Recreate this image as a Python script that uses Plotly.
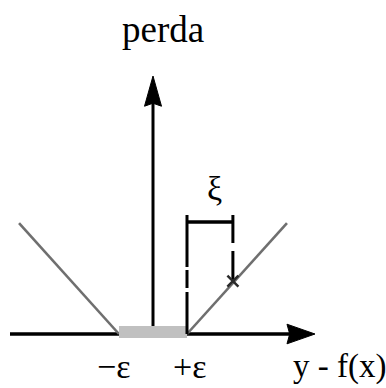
import plotly.graph_objects as go

# ε-insensitive loss, horizontal unit = ε
EPS = 1.0
loss_left_x = [-3.94, -1.0]
loss_left_y = [2.94, 0.0]
loss_right_x = [1.0, 3.94]
loss_right_y = [0.0, 2.94]
tube_x = [-EPS, EPS]
tube_y = [0.05, 0.05]

# sample outside the tube and its slack ξ
point_x = [2.35]
point_y = [1.40]
xi_value = point_x[0] - EPS

tick_text = ["\u2212\u03b5", "+\u03b5"]
tick_pos = [-EPS, EPS]
x_label = "y - f(x)"
y_label = "perda"
xi_label = "\u03be"

# axis extents in data units
X_RANGE = [-4.5, 6.853]
Y_RANGE = [-1.4305, 8.848]
AX_X0, AX_X1 = -4.206, 4.765
AX_Y1 = 6.834
BRACKET_TOP = 3.152
BRACKET_BAR = 2.967

FONT = "Liberation Serif"

fig = go.Figure()

# axes
fig.add_trace(go.Scatter(x=[AX_X0, AX_X1 - 0.5], y=[0, 0], mode="lines",
                         line=dict(color="black", width=3.5), hoverinfo="skip"))
fig.add_trace(go.Scatter(x=[0, 0], y=[0, AX_Y1 - 0.5], mode="lines",
                         line=dict(color="black", width=3), hoverinfo="skip"))
# arrowheads
hl, hh = 0.824, 0.26
fig.add_trace(go.Scatter(
    x=[AX_X1, AX_X1 - hl, AX_X1 - hl + 0.08, AX_X1 - hl, AX_X1],
    y=[0, hh, 0, -hh, 0], mode="lines", fill="toself", fillcolor="black",
    line=dict(color="black", width=1), hoverinfo="skip"))
vl, vw = 0.80, 0.25
fig.add_trace(go.Scatter(
    x=[0, vw, 0, -vw, 0],
    y=[AX_Y1, AX_Y1 - vl, AX_Y1 - vl + 0.08, AX_Y1 - vl, AX_Y1],
    mode="lines", fill="toself", fillcolor="black",
    line=dict(color="black", width=1), hoverinfo="skip"))

# loss branches
for lx, ly in ((loss_left_x, loss_left_y), (loss_right_x, loss_right_y)):
    fig.add_trace(go.Scatter(x=lx, y=ly, mode="lines",
                             line=dict(color="#6f6f6f", width=2.6), hoverinfo="skip"))

# insensitive tube
fig.add_trace(go.Scatter(x=tube_x, y=tube_y, mode="lines",
                         line=dict(color="#c0c0c0", width=12), hoverinfo="skip"))

# slack bracket
bx0, bx1 = EPS, point_x[0]
fig.add_trace(go.Scatter(x=[bx0, bx1], y=[BRACKET_BAR, BRACKET_BAR], mode="lines",
                         line=dict(color="black", width=3.5), hoverinfo="skip"))
fig.add_trace(go.Scatter(x=[bx0, bx0], y=[BRACKET_TOP, 0], mode="lines",
                         line=dict(color="black", width=3, dash="52px,3px,18px,4px"),
                         hoverinfo="skip"))
fig.add_trace(go.Scatter(x=[bx1, bx1], y=[BRACKET_TOP, point_y[0]], mode="lines",
                         line=dict(color="black", width=3, dash="28px,8px,60px"),
                         hoverinfo="skip"))

# sample point
fig.add_trace(go.Scatter(x=point_x, y=point_y, mode="markers",
                         marker=dict(symbol="x-thin", size=11,
                                     line=dict(color="#2a2a2a", width=2.5)),
                         hoverinfo="skip"))

ann = []
for t, p, dx in zip(tick_text, tick_pos, (-6, 2)):
    ann.append(dict(x=p, y=0, text=t, showarrow=False, xanchor="center", yanchor="middle",
                    xshift=dx, yshift=-32, font=dict(family=FONT, size=34, color="black")))
ann.append(dict(x=AX_X1, y=0, text=x_label, showarrow=False, xanchor="left",
                yanchor="middle", xshift=-24, yshift=-32,
                font=dict(family=FONT, size=33, color="black")))
ann.append(dict(x=0, y=AX_Y1, text=y_label, showarrow=False, xanchor="center",
                yanchor="middle", xshift=10, yshift=47,
                font=dict(family=FONT, size=37, color="black")))
ann.append(dict(x=EPS + xi_value / 2, y=BRACKET_TOP, text=xi_label, showarrow=False,
                xanchor="center", yanchor="middle", xshift=5, yshift=27,
                font=dict(family=FONT, size=34, color="black")))

fig.update_layout(
    width=386, height=388, autosize=False,
    margin=dict(l=0, r=0, t=0, b=0, pad=0),
    paper_bgcolor="white", plot_bgcolor="white",
    showlegend=False, annotations=ann,
    xaxis=dict(range=X_RANGE, visible=False, fixedrange=True),
    yaxis=dict(range=Y_RANGE, visible=False, fixedrange=True),
)

fig.write_html("out.html", config={"displayModeBar": False})
